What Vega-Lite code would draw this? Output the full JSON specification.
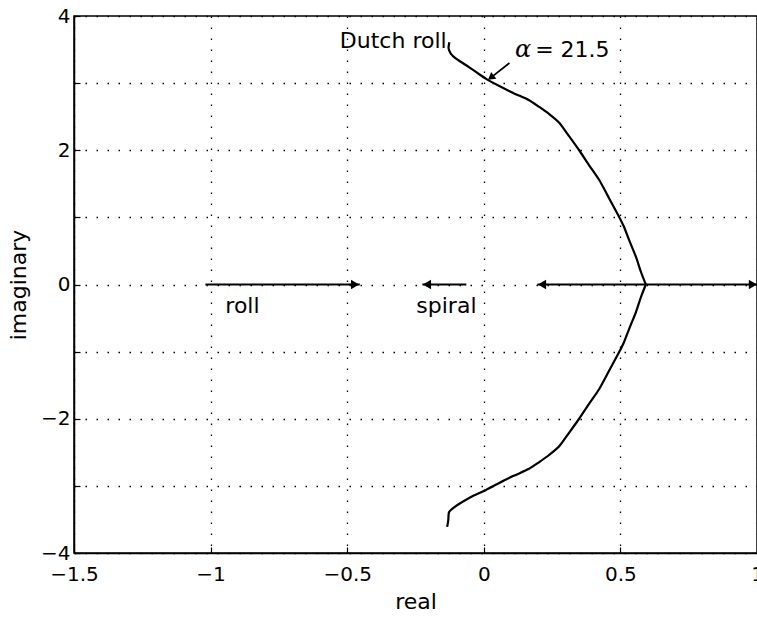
{
  "$schema": "https://vega.github.io/schema/vega-lite/v6.json",
  "width": 683,
  "height": 537,
  "autosize": {"type": "none"},
  "padding": {"left": 74, "top": 16, "right": 0, "bottom": 64},
  "background": "white",
  "config": {
    "view": {"stroke": "black", "strokeWidth": 1.5},
    "font": "DejaVu Sans",
    "axis": {
      "domainColor": "black",
      "domainWidth": 1.5,
      "tickColor": "black",
      "tickWidth": 1.2,
      "tickSize": -6,
      "labelFont": "DejaVu Sans",
      "labelFontSize": 20,
      "labelColor": "black",
      "labelFlush": false,
      "labelOverlap": false,
      "labelBound": false,
      "titleFont": "DejaVu Sans",
      "titleFontSize": 22,
      "titleFontWeight": "normal",
      "titleColor": "black",
      "grid": true,
      "gridColor": "black",
      "gridDash": [1.5, 9.5],
      "gridWidth": 1.3
    }
  },
  "datasets": {
    "locus": [
      {"branch": "upper", "i": 0, "re": -0.126, "im": 3.61},
      {"branch": "upper", "i": 1, "re": -0.129, "im": 3.52},
      {"branch": "upper", "i": 2, "re": -0.121, "im": 3.44},
      {"branch": "upper", "i": 3, "re": -0.103, "im": 3.37},
      {"branch": "upper", "i": 4, "re": -0.066, "im": 3.27},
      {"branch": "upper", "i": 5, "re": -0.030, "im": 3.17},
      {"branch": "upper", "i": 6, "re": 0.010, "im": 3.06},
      {"branch": "upper", "i": 7, "re": 0.055, "im": 2.96},
      {"branch": "upper", "i": 8, "re": 0.109, "im": 2.85},
      {"branch": "upper", "i": 9, "re": 0.164, "im": 2.75},
      {"branch": "upper", "i": 10, "re": 0.203, "im": 2.645},
      {"branch": "upper", "i": 11, "re": 0.239, "im": 2.54},
      {"branch": "upper", "i": 12, "re": 0.276, "im": 2.41},
      {"branch": "upper", "i": 13, "re": 0.312, "im": 2.21},
      {"branch": "upper", "i": 14, "re": 0.349, "im": 2.00},
      {"branch": "upper", "i": 15, "re": 0.385, "im": 1.78},
      {"branch": "upper", "i": 16, "re": 0.422, "im": 1.56},
      {"branch": "upper", "i": 17, "re": 0.458, "im": 1.29},
      {"branch": "upper", "i": 18, "re": 0.495, "im": 1.01},
      {"branch": "upper", "i": 19, "re": 0.513, "im": 0.86},
      {"branch": "upper", "i": 20, "re": 0.535, "im": 0.63},
      {"branch": "upper", "i": 21, "re": 0.557, "im": 0.41},
      {"branch": "upper", "i": 22, "re": 0.575, "im": 0.19},
      {"branch": "upper", "i": 23, "re": 0.593, "im": 0.0},
      {"branch": "lower", "i": 0, "re": -0.134, "im": -3.61},
      {"branch": "lower", "i": 1, "re": -0.130, "im": -3.51},
      {"branch": "lower", "i": 2, "re": -0.127, "im": -3.39},
      {"branch": "lower", "i": 3, "re": -0.105, "im": -3.31},
      {"branch": "lower", "i": 4, "re": -0.079, "im": -3.24},
      {"branch": "lower", "i": 5, "re": -0.035, "im": -3.14},
      {"branch": "lower", "i": 6, "re": 0.008, "im": -3.06},
      {"branch": "lower", "i": 7, "re": 0.055, "im": -2.96},
      {"branch": "lower", "i": 8, "re": 0.109, "im": -2.85},
      {"branch": "lower", "i": 9, "re": 0.164, "im": -2.75},
      {"branch": "lower", "i": 10, "re": 0.203, "im": -2.645},
      {"branch": "lower", "i": 11, "re": 0.239, "im": -2.54},
      {"branch": "lower", "i": 12, "re": 0.276, "im": -2.41},
      {"branch": "lower", "i": 13, "re": 0.312, "im": -2.21},
      {"branch": "lower", "i": 14, "re": 0.349, "im": -2.00},
      {"branch": "lower", "i": 15, "re": 0.385, "im": -1.78},
      {"branch": "lower", "i": 16, "re": 0.422, "im": -1.56},
      {"branch": "lower", "i": 17, "re": 0.458, "im": -1.29},
      {"branch": "lower", "i": 18, "re": 0.495, "im": -1.01},
      {"branch": "lower", "i": 19, "re": 0.513, "im": -0.86},
      {"branch": "lower", "i": 20, "re": 0.535, "im": -0.63},
      {"branch": "lower", "i": 21, "re": 0.557, "im": -0.41},
      {"branch": "lower", "i": 22, "re": 0.575, "im": -0.19},
      {"branch": "lower", "i": 23, "re": 0.593, "im": 0.0}
    ],
    "realRoots": [
      {"mode": "roll", "re": -1.019, "re2": -0.454, "im": 0},
      {"mode": "spiral", "re": -0.225, "re2": -0.064, "im": 0},
      {"mode": "real pair", "re": 0.196, "re2": 1.0, "im": 0}
    ],
    "heads": [
      {"re": -0.471, "im": 0, "dir": "right"},
      {"re": -0.208, "im": 0, "dir": "left"},
      {"re": 0.213, "im": 0, "dir": "left"},
      {"re": 0.985, "im": 0, "dir": "right"}
    ],
    "callout": [
      {"re": 0.094, "im": 3.30, "re2": 0.026, "im2": 3.082}
    ],
    "calloutHead": [
      {"re": 0.026, "im": 3.082}
    ],
    "labelsLeft": [
      {"re": -0.946, "im": -0.425, "label": "roll"},
      {"re": -0.247, "im": -0.425, "label": "spiral"},
      {"re": 0.188, "im": 3.389, "label": "= 21.5"}
    ],
    "labelsRight": [
      {"re": -0.136, "im": 3.523, "label": "Dutch roll"}
    ],
    "greek": [
      {"re": 0.114, "im": 3.389, "label": "α"}
    ]
  },
  "encoding": {
    "x": {
      "field": "re",
      "type": "quantitative",
      "scale": {"domain": [-1.5, 1], "nice": false, "zero": false},
      "axis": {
        "title": "real",
        "values": [-1.5, -1, -0.5, 0, 0.5, 1],
        "format": "~g",
        "labelPadding": 17,
        "titlePadding": 7
      }
    },
    "y": {
      "field": "im",
      "type": "quantitative",
      "scale": {"domain": [-4, 4], "nice": false, "zero": false},
      "axis": {
        "title": "imaginary",
        "values": [-4, -3, -2, -1, 0, 1, 2, 3, 4],
        "labelExpr": "datum.value % 2 === 0 ? datum.label : ''",
        "labelPadding": 10,
        "titlePadding": 10
      }
    }
  },
  "layer": [
    {
      "data": {"name": "locus"},
      "mark": {"type": "line", "color": "black", "strokeWidth": 2.2, "interpolate": "cardinal", "tension": 0.3},
      "encoding": {
        "detail": {"field": "branch"},
        "order": {"field": "i", "type": "quantitative"}
      }
    },
    {
      "data": {"name": "realRoots"},
      "mark": {"type": "rule", "color": "black", "strokeWidth": 2.2},
      "encoding": {"x2": {"field": "re2"}}
    },
    {
      "data": {"name": "heads"},
      "mark": {"type": "point", "filled": true, "color": "black", "opacity": 1, "size": 90},
      "encoding": {
        "shape": {
          "field": "dir",
          "type": "nominal",
          "scale": {"domain": ["right", "left"], "range": ["triangle-right", "triangle-left"]},
          "legend": null
        }
      }
    },
    {
      "data": {"name": "callout"},
      "mark": {"type": "rule", "color": "black", "strokeWidth": 1.8},
      "encoding": {"x2": {"field": "re2"}, "y2": {"field": "im2"}}
    },
    {
      "data": {"name": "calloutHead"},
      "mark": {"type": "point", "shape": "triangle-up", "angle": 232, "filled": true, "color": "black", "opacity": 1, "size": 70}
    },
    {
      "data": {"name": "labelsLeft"},
      "mark": {"type": "text", "align": "left", "baseline": "alphabetic", "font": "DejaVu Sans", "fontSize": 22, "color": "black"},
      "encoding": {"text": {"field": "label"}}
    },
    {
      "data": {"name": "labelsRight"},
      "mark": {"type": "text", "align": "right", "baseline": "alphabetic", "font": "DejaVu Sans", "fontSize": 22, "color": "black"},
      "encoding": {"text": {"field": "label"}}
    },
    {
      "data": {"name": "greek"},
      "mark": {"type": "text", "align": "left", "baseline": "alphabetic", "font": "DejaVu Serif", "fontStyle": "italic", "fontSize": 24, "color": "black"},
      "encoding": {"text": {"field": "label"}}
    }
  ]
}
